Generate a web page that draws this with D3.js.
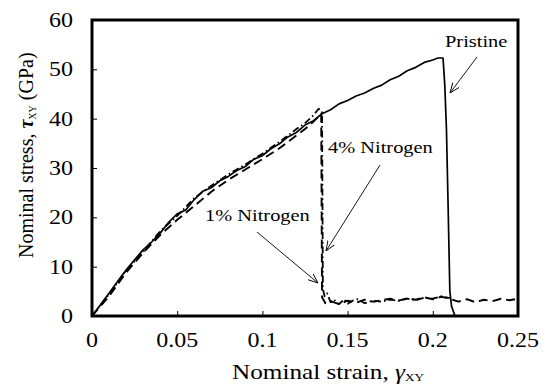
<!DOCTYPE html>
<html>
<head>
<meta charset="utf-8">
<script src="https://cdn.jsdelivr.net/npm/d3@7"></script>
<style>
  body { margin: 0; background: #fff; overflow: hidden; }
  svg { display: block; }
  text { font-family: "Liberation Serif", "Times New Roman", serif; fill: #000; }
</style>
</head>
<body>
<div id="chart"></div>
<script>
// ===========================
// Shear stress-strain chart
// Pristine vs nitrogen-doped samples
// ===========================

const xTicks = [0, 0.05, 0.1, 0.15, 0.2, 0.25];
const yTicks = [0, 10, 20, 30, 40, 50, 60];

const pristineStrain = [0, .005, .01, .015, .02, .025, .03, .035, .04, .045, .05, .055, .06, .065, .07, .075, .08, .085, .09, .095, .1, .105, .11, .115, .12, .125, .13, .135, .14, .145, .15, .155, .16, .165, .17, .175, .18, .185, .19, .195, .2, .203, .206, .207, .208, .209, .21, .211, .213];
const pristineStress = [0, 2.3, 4.6, 7.0, 9.3, 11.4, 13.4, 15.0, 16.8, 19.0, 20.7, 21.5, 23.6, 25.3, 26.0, 27.4, 28.3, 29.5, 30.3, 31.8, 32.5, 33.9, 34.9, 36.3, 37.2, 38.7, 39.6, 41.0, 41.8, 43.0, 43.7, 44.6, 45.2, 46.1, 46.8, 47.9, 48.6, 49.7, 50.4, 51.4, 51.9, 52.3, 52.3, 47, 38, 22, 5, 2, 0];

const n4Strain = [0, .01, .02, .03, .04, .05, .06, .07, .08, .09, .1, .11, .12, .125, .13, .1345, .135, .137, .14, .145, .15, .155, .16, .165, .17, .175, .18, .185, .19, .195, .2, .205, .21, .215, .22, .225, .23, .235, .24, .245, .25];
const n4Stress = [0, 4.0, 8.8, 12.8, 16.4, 19.5, 22.3, 25.2, 27.6, 29.7, 31.8, 34.0, 36.6, 37.9, 39.4, 41.0, 3.8, 2.6, 3.0, 2.4, 3.1, 2.7, 3.3, 2.9, 3.2, 3.5, 3.1, 3.6, 3.3, 3.8, 3.4, 3.9, 3.5, 2.9, 3.4, 2.8, 3.3, 3.0, 3.5, 3.2, 3.5];

const n1Strain = [0, .01, .02, .03, .04, .05, .06, .07, .08, .09, .1, .11, .12, .125, .13, .133, .135, .1355, .1365, .138, .14, .142, .145, .148, .15, .153, .156, .16, .165, .17, .175, .18, .185, .19, .195, .2, .205, .21];
const n1Stress = [0, 4.4, 9.2, 13.0, 17.2, 20.3, 23.9, 26.4, 28.7, 30.7, 32.9, 35.3, 37.9, 39.1, 40.7, 42.0, 41.5, 5.5, 4.0, 4.6, 2.8, 3.3, 2.4, 3.4, 2.5, 3.1, 3.4, 2.6, 3.1, 2.9, 3.3, 3.1, 3.5, 3.2, 3.7, 3.5, 4.0, 3.6];

const xLabels = ['0', '0.05', '0.1', '0.15', '0.2', '0.25'];
const yLabels = ['0', '10', '20', '30', '40', '50', '60'];

const width = 549, height = 387;
const margin = { top: 20, right: 31, bottom: 71, left: 92 };
const innerWidth = width - margin.left - margin.right;
const innerHeight = height - margin.top - margin.bottom;
const stretch = 1.2; // glyphs in the original look wider than tall

const svg = d3.select('#chart').append('svg')
    .attr('width', width)
    .attr('height', height);

svg.append('defs').append('marker')
    .attr('id', 'arrow')
    .attr('viewBox', '0 -5 10 10')
    .attr('refX', 10)
    .attr('refY', 0)
    .attr('markerWidth', 10)
    .attr('markerHeight', 10)
    .attr('markerUnits', 'userSpaceOnUse')
    .attr('orient', 'auto')
    .append('path')
    .attr('d', 'M0,-4L10,0L0,4')
    .attr('fill', 'none')
    .attr('stroke', '#000')
    .attr('stroke-width', 0.9);

const g = svg.append('g')
    .attr('transform', `translate(${margin.left},${margin.top})`);

const xScale = d3.scaleLinear().domain([0, 0.25]).range([0, innerWidth]);
const yScale = d3.scaleLinear().domain([0, 60]).range([innerHeight, 0]);

// widen a horizontal text without a transform
function widen(sel) {
    const w = sel.node().getComputedTextLength();
    sel.attr('textLength', w * stretch).attr('lengthAdjust', 'spacingAndGlyphs');
    return sel;
}

function label(parent, x, y, anchor, size, str) {
    const t = parent.append('text')
        .attr('x', x)
        .attr('y', y)
        .attr('text-anchor', anchor)
        .style('font-size', size + 'px')
        .text(str);
    return widen(t);
}

// inner ticks (labels drawn separately)
g.append('g')
    .attr('transform', `translate(0,${innerHeight})`)
    .call(d3.axisBottom(xScale).tickValues(xTicks).tickSizeInner(-5).tickSizeOuter(0))
    .call(s => s.select('.domain').remove())
    .call(s => s.selectAll('text').remove())
    .selectAll('line').attr('stroke', '#000').attr('stroke-width', 1);

g.append('g')
    .call(d3.axisLeft(yScale).tickValues(yTicks).tickSizeInner(-5).tickSizeOuter(0))
    .call(s => s.select('.domain').remove())
    .call(s => s.selectAll('text').remove())
    .selectAll('line').attr('stroke', '#000').attr('stroke-width', 1);

xTicks.forEach((t, i) => label(g, xScale(t), innerHeight + 31, 'middle', 20, xLabels[i]));
yTicks.forEach((t, i) => label(g, -19, yScale(t) + 7, 'end', 20, yLabels[i]));

// curves
const line = d3.line()
    .x(d => xScale(d[0]))
    .y(d => yScale(d[1]));

const series = [
    { strain: n1Strain, stress: n1Stress, dash: '7,3,1.5,3', w: 1.8 },
    { strain: n4Strain, stress: n4Stress, dash: '9,5', w: 1.9 },
    { strain: pristineStrain, stress: pristineStress, dash: null, w: 1.7 }
];

series.forEach(s => {
    g.append('path')
        .datum(s.strain.map((x, i) => [x, s.stress[i]]))
        .attr('d', line)
        .attr('fill', 'none')
        .attr('stroke', '#000')
        .attr('stroke-width', s.w)
        .attr('stroke-linejoin', 'round')
        .attr('stroke-dasharray', s.dash);
});

// frame
g.append('rect')
    .attr('width', innerWidth)
    .attr('height', innerHeight)
    .attr('fill', 'none')
    .attr('stroke', '#000')
    .attr('stroke-width', 3);

// annotations
const notes = [
    { text: 'Pristine', tx: 445, ty: 47, from: [477, 57], to: [450, 93] },
    { text: '4% Nitrogen', tx: 328, ty: 153, from: [380, 165], to: [326, 251] },
    { text: '1% Nitrogen', tx: 205, ty: 221, from: [257, 232], to: [318, 283] }
];

notes.forEach(n => {
    label(svg, n.tx, n.ty, 'start', 17, n.text);
    svg.append('line')
        .attr('x1', n.from[0]).attr('y1', n.from[1])
        .attr('x2', n.to[0]).attr('y2', n.to[1])
        .attr('stroke', '#000')
        .attr('stroke-width', 0.9)
        .attr('marker-end', 'url(#arrow)');
});

// axis titles
const xTitle = svg.append('text')
    .attr('x', 232)
    .attr('y', 379)
    .style('font-size', '21px');
xTitle.append('tspan').text('Nominal strain, ');
xTitle.append('tspan').style('font-style', 'italic').text('γ');
xTitle.append('tspan').style('font-size', '11px').attr('dy', 2).text('XY');
widen(xTitle);

const yTitle = svg.append('text')
    .attr('transform', 'translate(33,258) rotate(-90)')
    .style('font-size', '20px');
yTitle.append('tspan').text('Nominal stress, ');
yTitle.append('tspan').style('font-style', 'italic').style('font-weight', 'bold').text('τ');
yTitle.append('tspan').style('font-size', '10px').attr('dy', 3).text('XY');
yTitle.append('tspan').attr('dy', -3).text(' (GPa)');
</script>
</body>
</html>
